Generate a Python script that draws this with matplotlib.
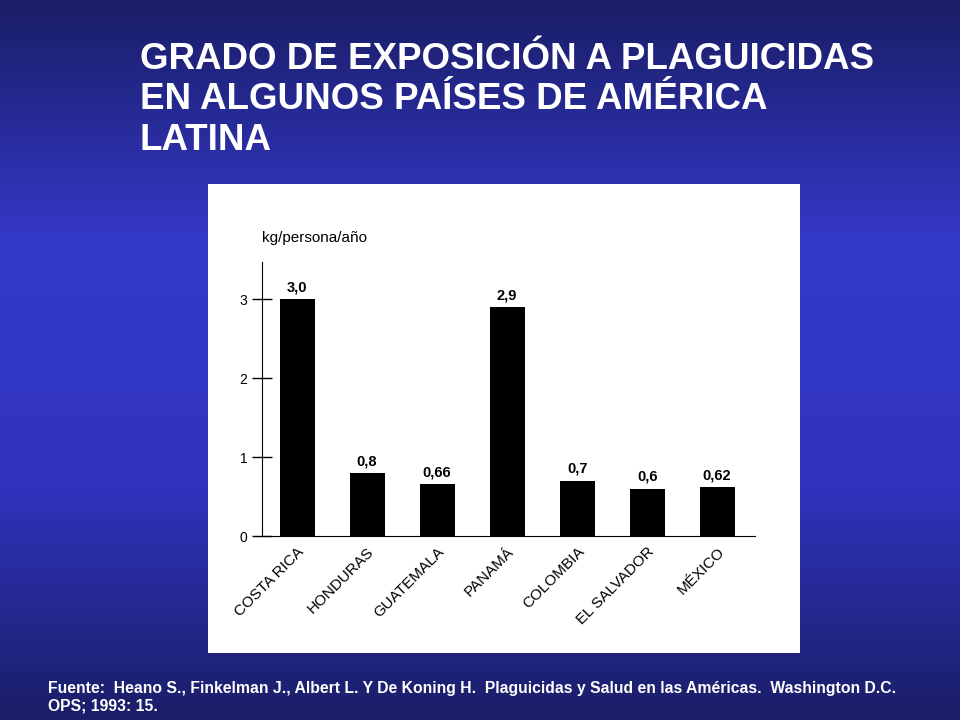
import matplotlib
matplotlib.use("Agg")
import matplotlib.pyplot as plt
import numpy as np
from matplotlib.colors import LinearSegmentedColormap

countries = ["COSTA RICA", "HONDURAS", "GUATEMALA", "PANAMÁ", "COLOMBIA", "EL SALVADOR", "MÉXICO"]
values = [3.0, 0.8, 0.66, 2.9, 0.7, 0.6, 0.62]
value_labels = ["3,0", "0,8", "0,66", "2,9", "0,7", "0,6", "0,62"]
yticks = [0, 1, 2, 3]

plt.rcParams["font.family"] = ["Liberation Sans", "DejaVu Sans"]
fig = plt.figure(figsize=(9.6, 7.2), dpi=100)

bg = fig.add_axes([0, 0, 1, 1], zorder=-10)
cmap = LinearSegmentedColormap.from_list("bg", ["#1a1e66", "#3438c8", "#3034c0", "#1a1e66"])
grad = np.linspace(0, 1, 256).reshape(-1, 1)
bg.imshow(grad, aspect="auto", cmap=cmap, extent=[0, 1, 0, 1], origin="upper")
bg.axis("off")

fig.text(140/960, 1-42/720, "GRADO DE EXPOSICIÓN A PLAGUICIDAS\nEN ALGUNOS PAÍSES DE AMÉRICA\nLATINA",
         color="white", fontsize=26.5, fontweight="bold", va="top", ha="left", linespacing=1.2)
fig.text(48/960, 1-697/720, "Fuente:  Heano S., Finkelman J., Albert L. Y De Koning H.  Plaguicidas y Salud en las Américas.  Washington D.C.\nOPS; 1993: 15.",
         color="white", fontsize=11.3, fontweight="bold", va="center", ha="left", linespacing=1.25)

box = fig.add_axes([208/960, 1-653/720, (800-208)/960, (653-184)/720], zorder=-5)
box.set_facecolor("white")
box.set_xticks([]); box.set_yticks([])
for s in box.spines.values():
    s.set_visible(False)

ax = fig.add_axes([262/960, 1-536/720, (755-262)/960, (536-262)/720])
ax.patch.set_alpha(0)
x = np.arange(len(countries))
ax.bar(x, values, width=0.5, color="black")
ax.set_xlim(-0.5, 6.54)
ax.set_ylim(0, 3.47)
for s in ["top", "right"]:
    ax.spines[s].set_visible(False)
ax.set_yticks(yticks)
ax.set_yticklabels([str(t) for t in yticks], fontsize=10)
ax.tick_params(axis="y", direction="inout", length=14, width=1)
ax.set_xticks(x)
ax.set_xticklabels(countries, rotation=45, ha="right", rotation_mode="anchor", fontsize=11)
ax.tick_params(axis="x", length=0, pad=6)
for xi, v, lab in zip(x, values, value_labels):
    ax.text(xi, v + 0.06, lab, ha="center", va="bottom", fontsize=10.5, fontweight="bold")
fig.text(262/960, 1-238/720, "kg/persona/año", fontsize=11, ha="left", va="center")

fig.savefig("out.png", dpi=100)
